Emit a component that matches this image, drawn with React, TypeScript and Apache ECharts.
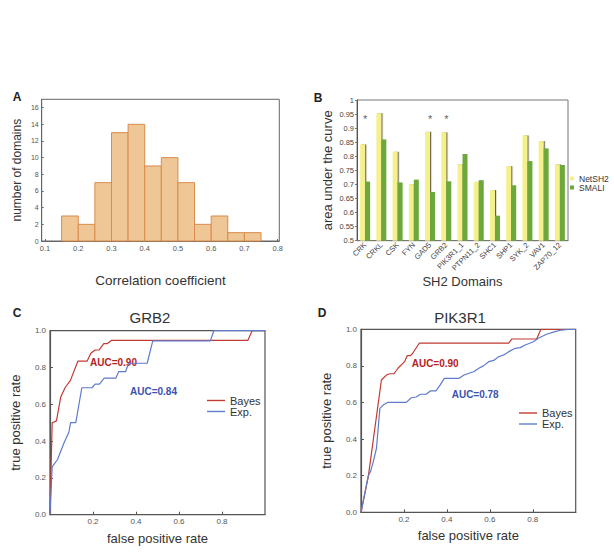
import React, { useEffect, useRef } from 'react';
import * as echarts from 'echarts';

// Panel A: histogram of correlation coefficients
const binStarts = [0.15, 0.2, 0.25, 0.3, 0.35, 0.4, 0.45, 0.5, 0.55, 0.6, 0.65, 0.7];
const binWidth = 0.05;
const binCounts = [3, 2, 7, 13, 14, 9, 10, 7, 2, 3, 1, 1];
const histXTicks = [0.1, 0.2, 0.3, 0.4, 0.5, 0.6, 0.7, 0.8];
const histYTicks = [0, 2, 4, 6, 8, 10, 12, 14, 16];

// Panel B: AUC per SH2 domain
const domains = ['CRK', 'CRKL', 'CSK', 'FYN', 'GAD5', 'GRB2', 'PIK3R1_1', 'PTPN11_2', 'SHC1', 'SHP1', 'SYK_2', 'VAV1', 'ZAP70_12'];
const netSH2 = [0.842, 0.953, 0.816, 0.701, 0.887, 0.885, 0.772, 0.709, 0.68, 0.765, 0.874, 0.854, 0.771];
const smali = [0.71, 0.86, 0.707, 0.717, 0.673, 0.711, 0.808, 0.715, 0.589, 0.697, 0.783, 0.828, 0.769];
const starred = ['CRK', 'GAD5', 'GRB2'];
const starLevel = 0.932;

// Panel C: GRB2 ROC
const grb2Bayes = [[0, 0], [0.01, 0.5], [0.03, 0.51], [0.05, 0.64], [0.07, 0.69], [0.095, 0.73], [0.13, 0.835], [0.173, 0.835], [0.19, 0.877], [0.21, 0.895], [0.228, 0.895], [0.25, 0.93], [0.267, 0.93], [0.285, 0.947], [0.92, 0.947], [0.94, 1.0], [1, 1]];
const grb2Exp = [[0, 0], [0.01, 0.26], [0.035, 0.3], [0.065, 0.39], [0.088, 0.45], [0.096, 0.5], [0.12, 0.5], [0.148, 0.69], [0.195, 0.69], [0.21, 0.71], [0.23, 0.71], [0.252, 0.742], [0.306, 0.742], [0.32, 0.778], [0.352, 0.778], [0.365, 0.823], [0.452, 0.823], [0.478, 0.945], [0.746, 0.945], [0.762, 1.0], [1, 1]];

// Panel D: PIK3R1 ROC
const pikBayes = [[0, 0], [0.034, 0.195], [0.095, 0.723], [0.118, 0.75], [0.134, 0.757], [0.154, 0.757], [0.172, 0.787], [0.203, 0.823], [0.215, 0.856], [0.231, 0.856], [0.241, 0.869], [0.272, 0.925], [0.688, 0.925], [0.703, 0.947], [0.818, 0.947], [0.838, 1.0], [1, 1]];
const pikExp = [[0, 0], [0.034, 0.2], [0.045, 0.225], [0.057, 0.276], [0.072, 0.35], [0.088, 0.568], [0.103, 0.586], [0.126, 0.601], [0.211, 0.601], [0.234, 0.626], [0.257, 0.63], [0.277, 0.645], [0.303, 0.645], [0.323, 0.663], [0.349, 0.663], [0.369, 0.696], [0.388, 0.732], [0.434, 0.732], [0.457, 0.732], [0.48, 0.75], [0.503, 0.76], [0.525, 0.768], [0.549, 0.787], [0.57, 0.8], [0.595, 0.823], [0.618, 0.83], [0.641, 0.85], [0.665, 0.86], [0.688, 0.878], [0.718, 0.896], [0.742, 0.9], [0.765, 0.914], [0.803, 0.932], [0.826, 0.951], [0.864, 0.973], [0.903, 0.987], [0.934, 0.996], [0.964, 1.0], [1, 1]];
const rocXTicks = [0.2, 0.4, 0.6, 0.8];

const FONT = 'Liberation Sans, Arial, Helvetica, sans-serif';
const RED = '#c23a32';
const BLUE = '#5f7bcc';

export default function App() {
  const ref = useRef<HTMLDivElement>(null);
  useEffect(() => {
    if (!ref.current) return;
    const chart = echarts.init(ref.current, undefined, { renderer: 'svg' });

    const rocX = (gridIndex: number) => ({
      type: 'value', gridIndex, min: 0, max: 1,
      axisLine: { show: true, lineStyle: { color: '#555', width: 1.2 } },
      axisTick: { show: true, inside: true, length: 3, customValues: rocXTicks, lineStyle: { color: '#555' } },
      axisLabel: { customValues: rocXTicks, fontSize: 8, color: '#555', margin: 3, fontFamily: FONT, formatter: (v: number) => v.toFixed(1) },
      splitLine: { show: false },
      name: 'false positive rate', nameLocation: 'middle', nameGap: 17,
      nameTextStyle: { fontSize: 13, color: '#333', fontFamily: FONT },
    });
    const rocY = (gridIndex: number) => ({
      type: 'value', gridIndex, min: 0, max: 1, interval: 0.2,
      axisLine: { show: true, lineStyle: { color: '#555', width: 1.2 } },
      axisTick: { show: true, inside: true, length: 3, lineStyle: { color: '#555' } },
      axisLabel: { fontSize: 8, color: '#555', margin: 4, fontFamily: FONT, formatter: (v: number) => v.toFixed(1) },
      splitLine: { show: false },
      name: 'true positive rate', nameLocation: 'middle', nameGap: 28,
      nameTextStyle: { fontSize: 13, color: '#333', fontFamily: FONT },
    });

    const text = (t: string, x: number, y: number, extra: any = {}) => ({
      type: 'text', x, y,
      style: { text: t, fontFamily: FONT, fill: '#222', textAlign: 'center', textVerticalAlign: 'middle', ...extra },
    });

    chart.setOption({
      animation: false,
      grid: [
        { left: 41.7, top: 99.3, width: 237.6, height: 141.7, show: true, borderColor: '#666', borderWidth: 1 },
        { left: 357, top: 100, width: 211, height: 140.7, show: true, borderColor: '#777', borderWidth: 1 },
        { left: 50, top: 330.7, width: 215, height: 184, show: true, borderColor: '#555', borderWidth: 1.2 },
        { left: 361, top: 329.3, width: 214.7, height: 183, show: true, borderColor: '#555', borderWidth: 1.2 },
      ],
      xAxis: [
        {
          type: 'value', gridIndex: 0, min: 0.09, max: 0.805,
          axisLine: { show: true, lineStyle: { color: '#666' } },
          axisTick: { show: true, inside: true, length: 2, customValues: histXTicks, lineStyle: { color: '#666' } },
          axisLabel: { customValues: histXTicks, fontSize: 7.5, color: '#555', margin: 3, fontFamily: FONT, formatter: (v: number) => v.toFixed(1) },
          splitLine: { show: false },
          name: 'Correlation coefficient', nameLocation: 'middle', nameGap: 32,
          nameTextStyle: { fontSize: 13.5, color: '#333', fontFamily: FONT },
        },
        {
          type: 'category', gridIndex: 1, data: domains,
          axisLine: { show: true, lineStyle: { color: '#777' } },
          axisTick: { show: false },
          axisLabel: { rotate: 45, interval: 0, fontSize: 7.5, color: '#444', margin: 3, fontFamily: FONT },
          name: 'SH2 Domains', nameLocation: 'middle', nameGap: 33,
          nameTextStyle: { fontSize: 13, color: '#333', fontFamily: FONT },
        },
        rocX(2),
        rocX(3),
      ],
      yAxis: [
        {
          type: 'value', gridIndex: 0, min: 0, max: 17,
          axisLine: { show: true, lineStyle: { color: '#666' } },
          axisTick: { show: true, inside: true, length: 2, customValues: histYTicks, lineStyle: { color: '#666' } },
          axisLabel: { customValues: histYTicks, fontSize: 7, color: '#555', margin: 3, fontFamily: FONT },
          splitLine: { show: false },
          name: 'number of domains', nameLocation: 'middle', nameGap: 19,
          nameTextStyle: { fontSize: 12, color: '#333', fontFamily: FONT },
        },
        {
          type: 'value', gridIndex: 1, min: 0.5, max: 1, interval: 0.05,
          axisLine: { show: true, lineStyle: { color: '#555' } },
          axisTick: { show: true, length: 2, lineStyle: { color: '#777' } },
          axisLabel: { fontSize: 7.5, color: '#444', margin: 3, fontFamily: FONT, formatter: (v: number) => String(+v.toFixed(2)) },
          splitLine: { show: false },
          name: 'area under the curve', nameLocation: 'middle', nameGap: 23,
          nameTextStyle: { fontSize: 13, color: '#333', fontFamily: FONT },
        },
        rocY(2),
        rocY(3),
      ],
      legend: [
        {
          data: ['NetSH2', 'SMALI'], orient: 'vertical', left: 570, top: 174, padding: 0,
          icon: 'rect', itemWidth: 4, itemHeight: 4, itemGap: 0,
          textStyle: { fontSize: 8.5, color: '#333', fontFamily: FONT },
        },
        {
          data: ['Bayes', 'Exp.'], orient: 'vertical', left: 202, top: 390,
          icon: 'rect', itemWidth: 18, itemHeight: 1.4, itemGap: 0,
          textStyle: { fontSize: 11, color: '#333', fontFamily: FONT },
        },
        {
          data: ['Bayes', 'Exp.'], orient: 'vertical', left: 514, top: 402.5,
          icon: 'rect', itemWidth: 18, itemHeight: 1.4, itemGap: 0,
          textStyle: { fontSize: 11, color: '#333', fontFamily: FONT },
        },
      ],
      series: [
        {
          type: 'custom', xAxisIndex: 0, yAxisIndex: 0,
          data: binStarts.map((s, i) => [s, s + binWidth, binCounts[i]]),
          encode: { x: [0, 1], y: 2 },
          renderItem: (params: any, api: any) => {
            const p0 = api.coord([api.value(0), api.value(2)]);
            const p1 = api.coord([api.value(1), 0]);
            return {
              type: 'rect',
              shape: { x: p0[0], y: p0[1], width: p1[0] - p0[0], height: p1[1] - p0[1] },
              style: { fill: '#efc796', stroke: '#d98b4a', lineWidth: 1 },
            };
          },
        },
        {
          name: 'NetSH2', type: 'bar', xAxisIndex: 1, yAxisIndex: 1, data: netSH2,
          barWidth: 5, barGap: '0%',
          itemStyle: { color: '#f4f18c', shadowColor: 'rgba(70,60,30,0.85)', shadowOffsetX: 1.2, shadowBlur: 0 },
        },
        {
          name: 'SMALI', type: 'bar', xAxisIndex: 1, yAxisIndex: 1, data: smali,
          barWidth: 5, barGap: '0%',
          itemStyle: { color: '#6ca83c' },
        },
        {
          type: 'scatter', xAxisIndex: 1, yAxisIndex: 1, symbolSize: 0,
          data: starred.map((d) => [d, starLevel]),
          label: { show: true, position: 'inside', formatter: '*', fontSize: 11, color: '#333', fontFamily: FONT },
        },
        {
          name: 'Bayes', type: 'line', xAxisIndex: 2, yAxisIndex: 2, data: grb2Bayes,
          showSymbol: false, lineStyle: { color: RED, width: 1.2 }, itemStyle: { color: RED },
        },
        {
          name: 'Exp.', type: 'line', xAxisIndex: 2, yAxisIndex: 2, data: grb2Exp,
          showSymbol: false, lineStyle: { color: BLUE, width: 1.2 }, itemStyle: { color: BLUE },
        },
        {
          name: 'Bayes', type: 'line', xAxisIndex: 3, yAxisIndex: 3, data: pikBayes,
          showSymbol: false, lineStyle: { color: RED, width: 1.2 }, itemStyle: { color: RED },
        },
        {
          name: 'Exp.', type: 'line', xAxisIndex: 3, yAxisIndex: 3, data: pikExp,
          showSymbol: false, lineStyle: { color: BLUE, width: 1.2 }, itemStyle: { color: BLUE },
        },
      ],
      graphic: [
        text('A', 17, 97, { fontSize: 12, fontWeight: 'bold' }),
        text('B', 318, 98, { fontSize: 12, fontWeight: 'bold' }),
        text('C', 17, 313, { fontSize: 12, fontWeight: 'bold' }),
        text('D', 322, 313, { fontSize: 12, fontWeight: 'bold' }),
        text('GRB2', 150, 317, { fontSize: 15, fill: '#333' }),
        text('PIK3R1', 460, 317, { fontSize: 15, fill: '#333' }),
        text('AUC=0.90', 90, 362.7, { fontSize: 10, fontWeight: 'bold', fill: '#b52424', textAlign: 'left' }),
        text('AUC=0.84', 130, 391.7, { fontSize: 10, fontWeight: 'bold', fill: '#3b52b0', textAlign: 'left' }),
        text('AUC=0.90', 411.7, 363.3, { fontSize: 10, fontWeight: 'bold', fill: '#b52424', textAlign: 'left' }),
        text('AUC=0.78', 451.7, 394, { fontSize: 10, fontWeight: 'bold', fill: '#3b52b0', textAlign: 'left' }),
      ],
    });
    return () => chart.dispose();
  }, []);
  return <div ref={ref} style={{ position: 'fixed', left: 0, top: 0, width: 614, height: 554, background: '#fff' }} />;
}
